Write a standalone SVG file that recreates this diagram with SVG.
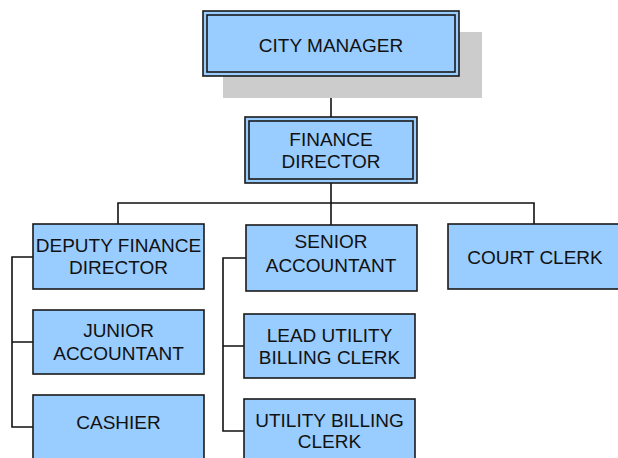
<svg xmlns="http://www.w3.org/2000/svg" width="618" height="458" viewBox="0 0 618 458">
<style>
.box{fill:#99ccff;stroke:#1a1a1a;stroke-width:1.6}
.inner{fill:none;stroke:#1a1a1a;stroke-width:1.6}
.t{font-family:"Liberation Sans",Arial,sans-serif;font-size:19px;fill:#111;text-anchor:middle}
.c{fill:none;stroke:#111;stroke-width:1.6}
</style>
<rect width="618" height="458" fill="#fff"/>
<g id="connectors">
<path class="c" d="M331,76 V118"/>
<path class="c" d="M331,183 V203 M118,224 V203 H534 V224 M331,203 V225"/>
<path class="c" d="M33,257 H12 V427 H33 M12,342 H33"/>
<path class="c" d="M246,258 H223 V431 H244 M223,346 H244"/>
</g>
<g id="city-manager">
<rect x="223" y="32" width="259" height="66" fill="#cccccc"/>
<rect class="box" x="203" y="11" width="256" height="65"/>
<rect class="inner" x="207" y="15" width="248" height="57"/>
<text class="t" x="331" y="51.5">CITY MANAGER</text>
</g>
<g id="finance-director">
<rect class="box" x="245" y="117" width="172" height="66"/>
<rect class="inner" x="249" y="121" width="164" height="58"/>
<text class="t" x="331" y="145.5">FINANCE</text>
<text class="t" x="331" y="168.3">DIRECTOR</text>
</g>
<g id="deputy-finance-director">
<rect class="box" x="33" y="224" width="171" height="65"/>
<text class="t" x="118.5" y="251.7">DEPUTY FINANCE</text>
<text class="t" x="118.5" y="274.3">DIRECTOR</text>
</g>
<g id="junior-accountant">
<rect class="box" x="33" y="310" width="171" height="64"/>
<text class="t" x="118.5" y="336.7">JUNIOR</text>
<text class="t" x="118.5" y="360">ACCOUNTANT</text>
</g>
<g id="cashier">
<rect class="box" x="33" y="395" width="171" height="70"/>
<text class="t" x="118.5" y="429.3">CASHIER</text>
</g>
<g id="senior-accountant">
<rect class="box" x="246" y="225" width="171" height="66"/>
<text class="t" x="331" y="248.3">SENIOR</text>
<text class="t" x="331" y="271.7">ACCOUNTANT</text>
</g>
<g id="lead-utility-billing-clerk">
<rect class="box" x="244" y="314" width="171" height="64"/>
<text class="t" x="329.5" y="342.3">LEAD UTILITY</text>
<text class="t" x="329.5" y="363.5">BILLING CLERK</text>
</g>
<g id="utility-billing-clerk">
<rect class="box" x="244" y="399" width="171" height="66"/>
<text class="t" x="329.5" y="427">UTILITY BILLING</text>
<text class="t" x="329.5" y="448.3">CLERK</text>
</g>
<g id="court-clerk">
<rect class="box" x="448" y="224" width="175" height="65"/>
<text class="t" x="535" y="264">COURT CLERK</text>
</g>
</svg>
